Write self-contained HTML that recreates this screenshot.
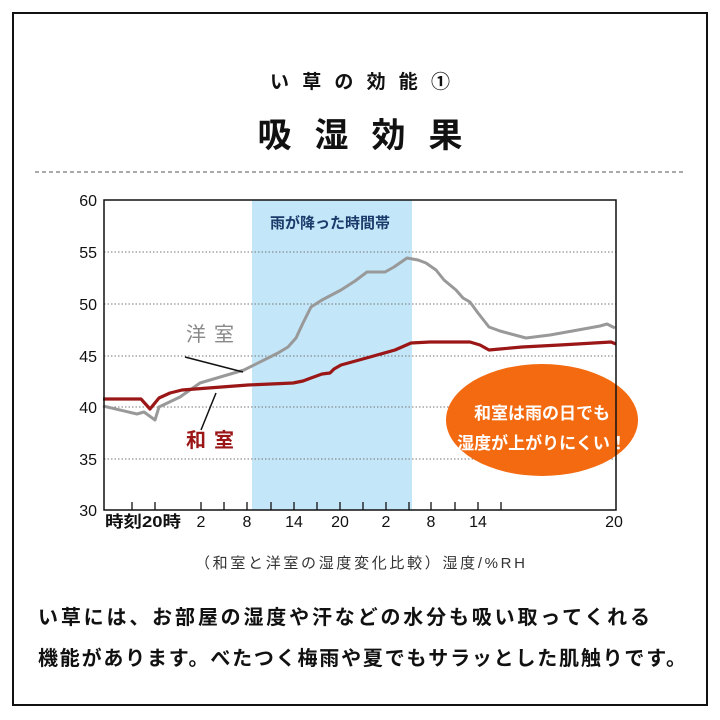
<!DOCTYPE html>
<html><head><meta charset="utf-8"><style>
html,body{margin:0;padding:0;background:#fff;}
svg{display:block;}
text{font-family:"Liberation Sans","Noto Sans CJK JP",sans-serif;}
</style></head><body>
<svg width="720" height="720" viewBox="0 0 720 720" xmlns="http://www.w3.org/2000/svg">
<rect x="13" y="13" width="694" height="692" fill="#fff" stroke="#111" stroke-width="2"/>
<text x="360" y="88" text-anchor="middle" font-size="19" font-weight="bold" fill="#111" textLength="180" lengthAdjust="spacing">い草の効能①</text>
<text x="360" y="147" text-anchor="middle" font-size="34" font-weight="bold" fill="#111" textLength="205" lengthAdjust="spacing">吸湿効果</text>
<line x1="35" y1="172" x2="686" y2="172" stroke="#555" stroke-width="1" stroke-dasharray="4,3"/>
<rect x="252" y="200" width="160" height="310" fill="#c3e6f8"/>
<g stroke="#777" stroke-width="1" stroke-dasharray="1.5,2">
<line x1="104" y1="252" x2="616" y2="252"/><line x1="104" y1="304" x2="616" y2="304"/>
<line x1="104" y1="356" x2="616" y2="356"/><line x1="104" y1="407" x2="616" y2="407"/>
<line x1="104" y1="459" x2="616" y2="459"/>
</g>
<text x="330" y="228" text-anchor="middle" font-size="15" font-weight="bold" fill="#1a3a6a">雨が降った時間帯</text>
<polyline fill="none" stroke="#999" stroke-width="3" stroke-linejoin="round" points="103,406 137,414 144,412 155,420 159,407 180,397 200,383 244,370 278,353 288,347 296,338 303,323 311,307 322,300 341,290 355,281 367,272 385,272 394,267 407,258 418,260 426,263 436,270 444,280 456,290 463,298 470,302 478,313 489,327 500,331 526,338 550,335 578,330 600,326 607,324 615,328"/>
<polyline fill="none" stroke="#9b1616" stroke-width="3.2" stroke-linejoin="round" points="103,399 141,399 150,409 159,398 170,393 182,390 248,385 293,383 303,381 311,378 322,374 330,373 334,369 341,365 370,357 395,350 411,343 430,342 470,342 480,345 489,350 500,349 522,347 560,345 611,342 616,344"/>
<line x1="185" y1="357" x2="243" y2="372" stroke="#111" stroke-width="1.5"/>
<line x1="201" y1="430" x2="216" y2="393" stroke="#111" stroke-width="1.5"/>
<text x="210" y="341" text-anchor="middle" font-size="20" fill="#888" textLength="48" lengthAdjust="spacing">洋室</text>
<text x="210" y="447" text-anchor="middle" font-size="20" font-weight="bold" fill="#9b1616" textLength="48" lengthAdjust="spacing">和室</text>
<ellipse cx="542" cy="420" rx="96" ry="56" fill="#f36a10"/>
<text x="542" y="419" text-anchor="middle" font-size="17" font-weight="bold" fill="#fff">和室は雨の日でも</text>
<text x="542" y="449" text-anchor="middle" font-size="17" font-weight="bold" fill="#fff">湿度が上がりにくい！</text>
<rect x="104" y="200" width="512" height="310" fill="none" stroke="#111" stroke-width="1.5"/>
<g stroke="#111" stroke-width="1.3">
<line x1="132" y1="502" x2="132" y2="510"/><line x1="155" y1="502" x2="155" y2="510"/>
<line x1="201" y1="502" x2="201" y2="510"/><line x1="224" y1="502" x2="224" y2="510"/>
<line x1="247" y1="502" x2="247" y2="510"/><line x1="271" y1="502" x2="271" y2="510"/>
<line x1="294" y1="502" x2="294" y2="510"/><line x1="317" y1="502" x2="317" y2="510"/>
<line x1="340" y1="502" x2="340" y2="510"/><line x1="363" y1="502" x2="363" y2="510"/>
<line x1="386" y1="502" x2="386" y2="510"/><line x1="409" y1="502" x2="409" y2="510"/>
<line x1="431" y1="502" x2="431" y2="510"/><line x1="455" y1="502" x2="455" y2="510"/>
<line x1="478" y1="502" x2="478" y2="510"/><line x1="501" y1="502" x2="501" y2="510"/>
</g>
<g font-size="16" fill="#111" text-anchor="end">
<text x="97" y="206">60</text><text x="97" y="258">55</text><text x="97" y="310">50</text>
<text x="97" y="362">45</text><text x="97" y="413">40</text><text x="97" y="465">35</text><text x="97" y="516">30</text>
</g>
<g font-size="16" fill="#111" text-anchor="middle">
<text x="143" y="527" font-weight="bold" textLength="76" lengthAdjust="spacingAndGlyphs">時刻20時</text>
<text x="201" y="527">2</text><text x="247" y="527">8</text><text x="294" y="527">14</text>
<text x="340" y="527">20</text><text x="386" y="527">2</text><text x="431" y="527">8</text>
<text x="478" y="527">14</text><text x="614" y="527">20</text>
</g>
<text x="360" y="568" text-anchor="middle" font-size="15" fill="#333" textLength="330" lengthAdjust="spacing">（和室と洋室の湿度変化比較）湿度/%RH</text>
<text x="38" y="624" font-size="20" font-weight="bold" fill="#111" textLength="612" lengthAdjust="spacing">い草には、お部屋の湿度や汗などの水分も吸い取ってくれる</text>
<text x="38" y="665" font-size="20" font-weight="bold" fill="#111" textLength="648" lengthAdjust="spacing">機能があります。べたつく梅雨や夏でもサラッとした肌触りです。</text>
</svg>
</body></html>
